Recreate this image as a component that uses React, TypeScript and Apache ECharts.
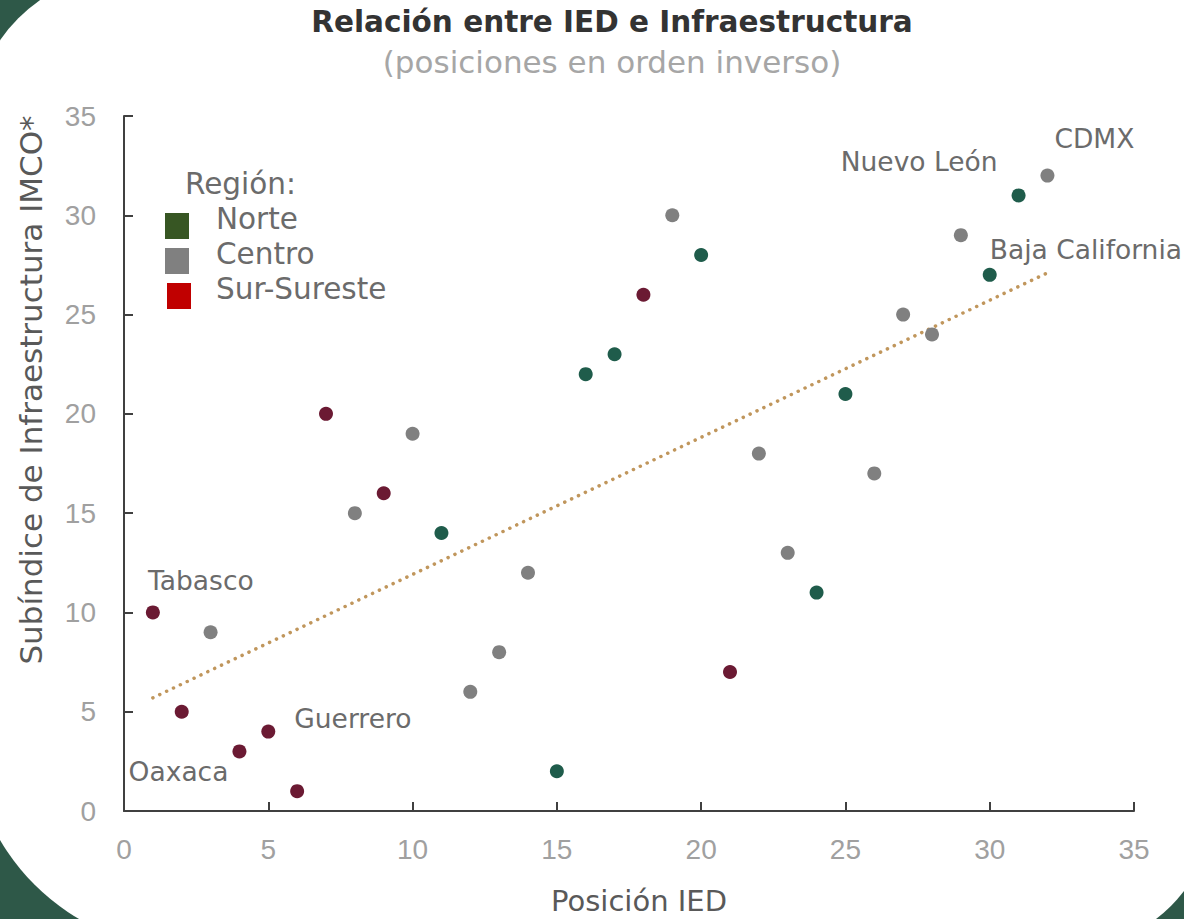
import React, { useEffect, useRef } from "react";
import * as echarts from "echarts";

// ---- Data ----
const regions = ["Norte", "Centro", "Sur-Sureste"];

// [posición IED, subíndice de infraestructura]
const norte: [number, number][] = [
  [11, 14], [15, 2], [16, 22], [17, 23], [20, 28], [24, 11], [25, 21], [30, 27], [31, 31],
];
const centro: [number, number][] = [
  [3, 9], [8, 15], [10, 19], [12, 6], [13, 8], [14, 12], [19, 30], [22, 18],
  [23, 13], [26, 17], [27, 25], [28, 24], [29, 29], [32, 32],
];
const surSureste: [number, number][] = [
  [1, 10], [2, 5], [4, 3], [5, 4], [6, 1], [7, 20], [9, 16], [18, 26], [21, 7],
];

// Trend line end points
const trend: [number, number][] = [
  [1, 5.7], [32, 27.1],
];

// Labelled states: [x, y, name]
const labelled: [number, number, string][] = [
  [1, 10, "Tabasco"],
  [4, 3, "Oaxaca"],
  [5, 4, "Guerrero"],
  [31, 31, "Nuevo León"],
  [32, 32, "CDMX"],
  [30, 27, "Baja California"],
];

const xTicks = [0, 5, 10, 15, 20, 25, 30, 35];
const yTicks = [0, 5, 10, 15, 20, 25, 30, 35];

const title = "Relación entre IED e Infraestructura";
const subtitle = "(posiciones en orden inverso)";
const xName = "Posición IED";
const yName = "Subíndice de Infraestructura IMCO*";
const legendTitle = "Región:";

// ---- Styles ----
const FONT = "'DejaVu Sans', 'Open Sans', sans-serif";
const AXFONT = "'Liberation Sans', Arial, sans-serif";
const pointColors: Record<string, string> = {
  Norte: "#1f5c4b",
  Centro: "#808080",
  "Sur-Sureste": "#6b1a33",
};
const legendColors: Record<string, string> = {
  Norte: "#375623",
  Centro: "#808080",
  "Sur-Sureste": "#c00000",
};
const labelOffsets: Record<string, { pos: any; offset: [number, number] }> = {
  Tabasco: { pos: "top", offset: [48, -6] },
  Oaxaca: { pos: "left", offset: [1, 20] },
  Guerrero: { pos: "right", offset: [14, -13] },
  "Nuevo León": { pos: "left", offset: [-9, -34] },
  CDMX: { pos: "top", offset: [47, -12] },
  "Baja California": { pos: "right", offset: [-12, -25] },
};

export default function App() {
  const ref = useRef<HTMLDivElement>(null);

  useEffect(() => {
    if (!ref.current) return;
    document.body.style.margin = "0";
    document.body.style.overflow = "hidden";
    const chart = echarts.init(ref.current, null, { renderer: "svg" });

    const seriesData: Record<string, [number, number][]> = {
      Norte: norte,
      Centro: centro,
      "Sur-Sureste": surSureste,
    };

    const mkData = (pts: [number, number][]) =>
      pts.map(([x, y]) => {
        const lab = labelled.find((l) => l[0] === x && l[1] === y);
        if (!lab) return { value: [x, y] };
        const o = labelOffsets[lab[2]];
        return {
          value: [x, y],
          name: lab[2],
          label: {
            show: true,
            formatter: lab[2],
            position: o.pos,
            offset: o.offset,
            color: "#6b6b6b",
            fontSize: 26.5,
            fontFamily: FONT,
          },
        };
      });

    const W = 1184;
    const H = 919;
    const a = 30;

    chart.setOption({
      animation: false,
      backgroundColor: "#2e5848",
      grid: { left: 124, right: 50, top: 116, bottom: 108, containLabel: false },
      xAxis: {
        type: "value",
        min: xTicks[0],
        max: xTicks[xTicks.length - 1],
        interval: 5,
        splitLine: { show: false },
        axisLine: { show: true, onZero: false, lineStyle: { color: "#404040", width: 2 } },
        axisTick: { show: true, inside: true, length: 9, lineStyle: { color: "#404040", width: 2 } },
        axisLabel: { color: "#a0a0a0", fontSize: 28, fontFamily: AXFONT, margin: 24 },
      },
      yAxis: {
        type: "value",
        min: yTicks[0],
        max: yTicks[yTicks.length - 1],
        interval: 5,
        splitLine: { show: false },
        axisLine: { show: true, onZero: false, lineStyle: { color: "#404040", width: 2 } },
        axisTick: { show: true, inside: true, length: 9, lineStyle: { color: "#404040", width: 2 } },
        axisLabel: { color: "#a0a0a0", fontSize: 28, fontFamily: AXFONT, margin: 28 },
      },
      legend: { show: false },
      series: [
        ...regions.map((r) => ({
          name: r,
          type: "scatter",
          symbol: "circle",
          symbolSize: 14,
          itemStyle: { color: pointColors[r], opacity: 1 },
          data: mkData(seriesData[r]),
          z: 3,
        })),
        {
          name: "Tendencia",
          type: "line",
          data: trend,
          symbol: "none",
          lineStyle: { color: "#c0965c", width: 3.5, type: [0.1, 7.5], cap: "round" },
          z: 2,
        },
      ],
      graphic: [
        {
          type: "rect",
          silent: true,
          z: -10,
          shape: { x: -a, y: -a, width: W + 2 * a, height: H + 2 * a, r: [165, 80, 147, 220] },
          style: { fill: "#ffffff" },
        },
        {
          type: "text",
          x: 612,
          y: 22,
          style: { text: title, font: `bold 29.5px ${FONT}`, fill: "#333333", align: "center", verticalAlign: "middle" },
        },
        {
          type: "text",
          x: 612,
          y: 62,
          style: { text: subtitle, font: `31px ${FONT}`, fill: "#a6a6a6", align: "center", verticalAlign: "middle" },
        },
        {
          type: "text",
          x: 639,
          y: 901,
          style: { text: xName, font: `29px ${FONT}`, fill: "#595959", align: "center", verticalAlign: "middle" },
        },
        {
          type: "text",
          x: 31,
          y: 390,
          rotation: Math.PI / 2,
          style: { text: yName, font: `31px ${FONT}`, fill: "#595959", align: "center", verticalAlign: "middle" },
        },
        {
          type: "text",
          x: 185,
          y: 184,
          style: { text: legendTitle, font: `29.5px ${FONT}`, fill: "#6b6b6b", verticalAlign: "middle" },
        },
        ...regions.flatMap((r, i) => [
          {
            type: "rect",
            shape: { x: 165 + (i === 2 ? 2 : 0), y: 213 + i * 35, width: 24, height: 26 },
            style: { fill: legendColors[r] },
          },
          {
            type: "text",
            x: 216,
            y: 219 + i * 35,
            style: { text: r, font: `29.5px ${FONT}`, fill: "#6b6b6b", verticalAlign: "middle" },
          },
        ]),
      ],
    });

    return () => chart.dispose();
  }, []);

  return (
    <div
      ref={ref}
      style={{ position: "absolute", left: 0, top: 0, width: 1184, height: 919 }}
    />
  );
}
